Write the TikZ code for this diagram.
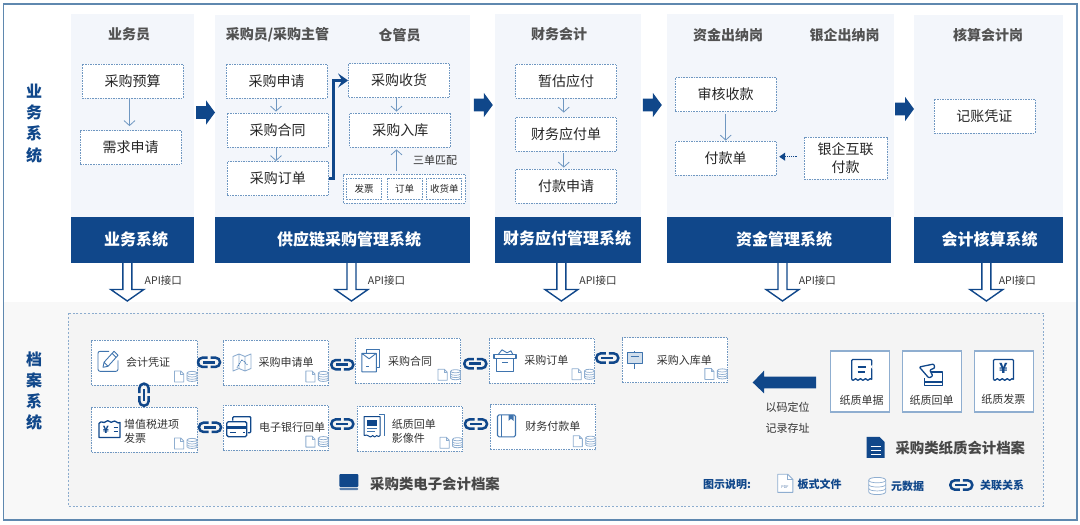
\documentclass[tikz,border=0pt]{standalone}
\usepackage{fontspec}
\usepackage{xcolor}
\setmainfont{Noto Sans CJK SC}
\usetikzlibrary{arrows.meta}
\definecolor{cgnavy}{HTML}{10478A}
\definecolor{cgblue}{HTML}{3F74AE}
\definecolor{cgdash}{HTML}{6F97C1}
\definecolor{cgpale}{HTML}{8FAED0}
\definecolor{cgpanel}{HTML}{F3F6FB}
\definecolor{cgband}{HTML}{F8F8F8}
\definecolor{cgarch}{HTML}{F4F4F4}
\definecolor{cgframe}{HTML}{5F88AF}
\definecolor{cgink}{HTML}{333333}
\newcommand{\pxf}[1]{\fontsize{#1}{#1}\selectfont}
\tikzset{
  panel/.style={fill=cgpanel},
  headbox/.style={fill=cgnavy},
  headtxt/.style={text=white, font=\bfseries\pxf{16}, inner sep=0pt},
  roletxt/.style={text=cgink!85, font=\bfseries\pxf{14}, inner sep=0pt},
  sidetxt/.style={text=cgnavy, font=\bfseries\pxf{16}, align=center, inner sep=0pt},
  flowbox/.style={rectangle, draw=cgdash, fill=white, line width=0.8pt, dash pattern=on 1.6pt off 1pt,
    minimum width=101pt, minimum height=34pt, inner sep=0pt, text=black!85, font=\pxf{14}, align=center},
  tinybox/.style={flowbox, minimum width=35pt, minimum height=21pt, font=\pxf{9.5}},
  archbox/.style={flowbox, minimum width=105.5pt, minimum height=45pt},
  papbox/.style={rectangle, draw=cgpale, fill=white, line width=1.2pt, minimum width=59pt, minimum height=61pt, inner sep=0pt},
  smalltxt/.style={text=cgink, font=\fontsize{11}{14}\selectfont, inner sep=0pt, align=left},
  bigtxt/.style={text=cgink!90, font=\bfseries\pxf{14.4}, inner sep=0pt},
  legtxt/.style={text=cgnavy, font=\bfseries\pxf{11}, inner sep=0pt},
  apitxt/.style={text=cgink, font=\pxf{10.5}, inner sep=0pt},
  thinarr/.style={draw=cgdash, line width=0.8pt, -{Straight Barb[length=5pt,width=11pt]}},
  thickarr/.style={draw=cgnavy, line width=2.4pt, -{Stealth[length=10pt,width=14pt,inset=4pt]}},
  dotarr/.style={draw=cgnavy, line width=1.1pt, dash pattern=on 1.2pt off 1pt, -{Triangle[length=6pt,width=8pt]}},
  icn/.style={draw=cgblue, line width=0.9pt, line join=round},
  icd/.style={draw=cgnavy, line width=1.3pt, line join=round},
  % link icon, blocks and hollow arrows
  chainicon/.pic={
    \draw[cgnavy, line width=2.5pt, rounded corners=4.4pt] (-1.5,-4.6) -| (-11,4.6) -- (-1.5,4.6);
    \draw[cgnavy, line width=2.5pt, rounded corners=4.4pt] (1.5,-4.6) -| (11,4.6) -- (1.5,4.6);
    \draw[cgnavy, line width=2.5pt] (-6,0) -- (6,0);
  },
  blockarrow/.pic={
    \fill[cgnavy] (-9.5,-6.3) -- (0.5,-6.3) -- (0.5,-12.2) -- (9.5,0) -- (0.5,12.2) -- (0.5,6.3) -- (-9.5,6.3) -- cycle;
  },
  apiarrow/.pic={
    \draw[cgnavy, line width=1.4pt, fill=white, line join=miter] (-4.5,0) -- (-4.5,26.5) -- (-16.5,26.5) -- (0,38) -- (16.5,26.5) -- (4.5,26.5) -- (4.5,0);
  },
  pdfmark/.pic={
    \draw[cgpale, line width=0.8pt, fill=white, line join=round] (-4.6,-5.5) -- (1.5,-5.5) -- (4.6,-2.4) -- (4.6,5.5) -- (-4.6,5.5) -- cycle;
    \draw[cgpale, line width=0.7pt] (1.5,-5.5) |- (4.6,-2.4);
  },
  dbmark/.pic={
    \draw[cgpale, line width=0.8pt, fill=white] (-5,-3.4) .. controls (-5,-5.6) and (5,-5.6) .. (5,-3.4) -- (5,3.4) .. controls (5,5.6) and (-5,5.6) .. (-5,3.4) -- cycle;
    \foreach \yy in {-3.4,-0.9,1.4}
      \draw[cgpale, line width=0.7pt] (-5,\yy) .. controls (-5,\yy+2) and (5,\yy+2) .. (5,\yy);
  },
  % document icons
  penicon/.pic={
    \draw[icn, rounded corners=2pt] (1,-10) -- (-10,-10) -- (-10,10) -- (10,10) -- (10,-1);
    \draw[icn] (-5,6) -- (-4,1) -- (6,-10) -- (10,-6) -- (0,5) -- cycle (-4,1) -- (0,5) (4,-8) -- (8,-4);
  },
  mapicon/.pic={
    \draw[icn, draw=cgpale] (-9,-6) -- (-3,-8.5) -- (3,-6) -- (9,-8.5) -- (9,6) -- (3,8.5) -- (-3,6) -- (-9,8.5) -- cycle
      (-3,-8.5) -- (-3,6) (3,-6) -- (3,8.5);
    \draw[icn, dash pattern=on 1pt off 1pt] (-5,5) -- (0,-3) -- (6,3);
  },
  contracticon/.pic={
    \draw[icn] (-4.5,-8) -- (-4.5,-11) -- (9,-11) -- (9,7) -- (5.5,7);
    \draw[icn] (-9,-7.5) -- (5.5,-7.5) -- (5.5,11) -- (-9,11) -- cycle (-9,-7.5) -- (-1.7,-2) -- (5.5,-7.5);
    \draw[icn] (-5,6) -- (-2,6);
  },
  boxicon/.pic={
    \draw[icn, line width=1.1pt] (-11,-6) rectangle (11,-2) (-8.5,-2) rectangle (8.5,11) (-3,2) -- (3,2);
    \draw[icn] (-7,-6) -- (-3,-11) -- (2,-8) -- (6,-10) -- (8,-6);
  },
  signicon/.pic={
    \draw[icn, fill=cgpale!40] (-7.5,-7.5) rectangle (7.5,3.5);
    \draw[icn, line width=1.6pt] (0,3.5) -- (0,9) (-4,-3) -- (4,-3);
    \draw[icn] (0,-7.5) -- (0,-9);
  },
  billshape/.pic={
    \draw[icd, rounded corners=1pt] (-10,9) -- (-10,-11) -- (10,-11) -- (10,9);
    \draw[icd] (-10,9) .. controls (-8,12) and (-6.5,6) .. (-5,9) .. controls (-3.5,12) and (-1.5,6) .. (0,9)
      .. controls (1.5,12) and (3.5,6) .. (5,9) .. controls (6.5,12) and (8,6) .. (10,9);
  },
  ticketicon/.pic={
    \draw[icd] (-10.5,-6) .. controls (-8,-10) and (-6,-5) .. (-3.5,-8) .. controls (-1,-11) and (1,-5) .. (3.5,-8) .. controls (6,-10) and (8,-5) .. (10.5,-7)
      -- (10.5,8) -- (-10.5,8) -- cycle;
    \node[text=cgnavy, font=\bfseries\pxf{10}, inner sep=0pt] (yenmark) at (-3.5,0.5) {¥};
    \draw[icd, line width=1pt] (4,-2) -- (8,-2) (4,2) -- (8,2);
  },
  cardicon/.pic={
    \draw[icd, rounded corners=1pt] (-6,-6) -- (-6,-10) -- (12,-10) -- (12,6) -- (9,6);
    \draw[icd, rounded corners=1.5pt] (-12,-5) rectangle (8,10);
    \fill[cgnavy] (-12,-1) rectangle (8,2.5);
    \draw[icd, line width=1pt] (-9,6) -- (-3,6) (4,6) -- (6,6);
  },
  scanicon/.pic={
    \draw[icn] (5,-12) -- (10,-12) -- (10,9);
    \draw[icd, line width=1pt] (-10,9) -- (-10,-10) -- (6,-10) -- (6,9)
      .. controls (4,12) and (3,7) .. (1.5,10) .. controls (0,12) and (-1,7) .. (-2.5,10) .. controls (-4,12) and (-6,7) .. (-10,9);
    \fill[cgnavy] (-7,-7) rectangle (3,-1);
    \draw[icn] (-7,2) -- (3,2) (-7,5) -- (1,5);
  },
  bookicon/.pic={
    \draw[icn, line width=1.1pt, rounded corners=1.5pt] (-9,-11) rectangle (9,11);
    \draw[icn] (-5,-11) -- (-5,11);
    \fill[cgblue] (2,-11) -- (7,-11) -- (7,-5) -- (4.5,-7) -- (2,-5) -- cycle;
  },
  receipticon/.pic={
    \pic {billshape};
    \draw[icd] (-4,-3.5) -- (4,-3.5) (-4,1.5) -- (3,1.5);
    \fill[white] (8.7,-4) -- (11,-6) -- (11,-1) -- cycle;
  },
  handicon/.pic={
    \draw[icd] (-5,-3) -- (11.5,-3) -- (11.5,10.5) -- (-6,10.5) -- (-6,3);
    \draw[icd] (-6,7) -- (11.5,7);
    \draw[icd, fill=white, rounded corners=1pt] (-11.5,-8) -- (3,-11) -- (4,-7) -- (-1,-5) -- (2,1) -- (-2,3) -- cycle;
  },
  yenicon/.pic={
    \pic {billshape};
    \node[text=cgnavy, font=\bfseries\pxf{14}, inner sep=0pt] (yenmark) at (0,-2.5) {¥};
  },
  monitoricon/.pic={
    \fill[cgnavy, rounded corners=1pt] (-9.5,-8) rectangle (9.5,5);
    \fill[cgnavy!70, rounded corners=1pt] (-9.5,5.8) rectangle (9.5,8);
  },
  fileicon/.pic={
    \fill[cgnavy] (-9,-10.5) -- (4,-10.5) -- (9,-5.5) -- (9,10.5) -- (-9,10.5) -- cycle;
    \draw[white, line width=1pt] (-5,-1) -- (5,-1) (-5,3) -- (5,3) (-5,7) -- (5,7);
  }
}

\begin{document}
\begin{tikzpicture}[x=1pt, y=-1pt]
  \useasboundingbox (0,0) rectangle (1080,525);
  % lower band and outer frame
  \fill[cgband] (3.5,302) rectangle (1077,520);
  \draw[cgframe, line width=1.2pt] (3.5,4) rectangle (1077,520);

  % panels and system headers
  \foreach \xa/\ya/\xb/\hb in {71/14/194/194, 215/15/470/470, 494.6/14/640.6/640.6, 667/14/894/891, 913.7/15/1063/1063}{
    \fill[panel] (\xa,\ya) rectangle (\xb,217);
    \fill[headbox] (\xa,217) rectangle (\hb,262.5);
  }
  \node[headtxt] (hywxt) at (136,239) {业务系统};
  \node[headtxt] (hgyl) at (349,239) {供应链采购管理系统};
  \node[headtxt] (hcwyf) at (567,238) {财务应付管理系统};
  \node[headtxt] (hzjgl) at (784,239) {资金管理系统};
  \node[headtxt] (hkjhs) at (989.5,239) {会计核算系统};

  \node[sidetxt, font=\bfseries\fontsize{16}{21.2}\selectfont] (sideyw) at (34,123.5) {业\\务\\系\\统};
  \node[sidetxt, font=\bfseries\fontsize{16}{21.2}\selectfont] (sidewa) at (34,391) {档\\案\\系\\统};

  % roles
  \node[roletxt] (rywy) at (129,34) {业务员};
  \node[roletxt] (rcgy) at (277.5,35) {采购员/采购主管};
  \node[roletxt] (rcgu) at (399.5,35.5) {仓管员};
  \node[roletxt] (rcwkj) at (559,34.5) {财务会计};
  \node[roletxt] (rzjcn) at (728,35) {资金出纳岗};
  \node[roletxt] (ryqcn) at (844.5,35) {银企出纳岗};
  \node[roletxt] (rhskj) at (988,35) {核算会计岗};

  % business flow boxes
  \node[flowbox] (cgys) at (132.5,81) {采购预算};
  \node[flowbox] (xqsq) at (130.5,147.5) {需求申请};
  \node[flowbox] (cgsq) at (276.5,81) {采购申请};
  \node[flowbox] (cght) at (277.5,130) {采购合同};
  \node[flowbox] (cgdd) at (277.75,178.5) {采购订单};
  \node[flowbox] (cgsh) at (399,80.5) {采购收货};
  \node[flowbox] (cgrk) at (400.25,130) {采购入库};
  \node[flowbox, minimum width=121.5pt, minimum height=29pt] (sdpp) at (404.25,188.5) {};
  \node[tinybox] (dfp) at (364,188.5) {发票};
  \node[tinybox] (ddd) at (404.5,188.5) {订单};
  \node[tinybox] (dsh) at (444.25,188.5) {收货单};
  \node[smalltxt, anchor=west] (sdtxt) at (413,160) {三单匹配};
  \node[flowbox] (zgyf) at (566,81) {暂估应付};
  \node[flowbox] (cwyf) at (566,134) {财务应付单};
  \node[flowbox] (fksq) at (566,186) {付款申请};
  \node[flowbox] (shsk) at (725.7,94.5) {审核收款};
  \node[flowbox] (fkd) at (725.7,158) {付款单};
  \node[flowbox, minimum width=83pt, minimum height=42pt, font=\fontsize{14}{18}\selectfont] (yqhl) at (845.5,158) {银企互联\\付款};
  \node[flowbox] (jzpz) at (984.4,116) {记账凭证};

  \draw[thinarr] ([xshift=-3pt]cgys.south) -- ([xshift=-1pt,yshift=4pt]xqsq.north);
  \draw[thinarr] ([xshift=-0.5pt]cgsq.south) -- ([xshift=-1.5pt,yshift=1pt]cght.north);
  \draw[thinarr] ([xshift=-1.5pt]cght.south) -- ([xshift=-1.75pt]cgdd.north);
  \draw[thinarr] ([xshift=-2.5pt]cgsh.south) -- ([xshift=-3.75pt,yshift=1pt]cgrk.north);
  \draw[thinarr] ([xshift=-7.75pt,yshift=3pt]sdpp.north) -- ([xshift=-3.75pt,yshift=-2pt]cgrk.south);
  \draw[thickarr] (cgdd.east) -- ++(5,0) |- (cgsh.west);
  \draw[thinarr] ([xshift=-2.25pt]zgyf.south) -- ([xshift=-2.25pt,yshift=4pt]cwyf.north);
  \draw[thinarr] ([xshift=-2.25pt,yshift=-2pt]cwyf.south) -- ([xshift=-2.25pt,yshift=1pt]fksq.north);
  \draw[thinarr] ([yshift=-2pt]shsk.south) -- (fkd.north);
  \draw[dotarr] ([xshift=-7pt,yshift=1.3pt]yqhl.west) -- ([xshift=2.6pt,yshift=1.3pt]fkd.east);

  % block arrows between systems
  \pic at (205.5,112.5) {blockarrow};
  \pic at (483.3,105) {blockarrow};
  \pic at (652.3,105) {blockarrow};
  \pic at (904.5,109) {blockarrow};

  % api arrows
  \foreach \cx/\tx [count=\i] in {127.3/163.3, 351.5/386.5, 561.4/598, 782.5/817.3, 986.4/1017.3}{
    \pic at (\cx,263) {apiarrow};
    \node[apitxt] (api\i) at (\tx,281) {API接口};
  }

  % archive area
  \draw[cgdash!80, fill=cgarch, line width=0.9pt, dash pattern=on 2pt off 1.8pt] (68,313) rectangle (1043,506);

  \node[archbox] (akj) at (144.5,362.5) {};
  \node[archbox] (asq) at (275.8,362.5) {};
  \node[archbox] (aht) at (408,360.8) {};
  \node[archbox] (add) at (542,360.4) {};
  \node[archbox] (ark) at (674.8,360) {};
  \node[archbox] (azz) at (144.5,429.5) {};
  \node[archbox] (ayh) at (275.8,427.7) {};
  \node[archbox] (azh) at (410,428.8) {};
  \node[archbox] (afk) at (543.1,427.3) {};
  \foreach \n in {akj,asq,aht,add,ark,azz,ayh,azh,afk}{
    \pic at ([xshift=-18.5pt,yshift=9pt]\n.south east) {pdfmark};
    \pic at ([xshift=-5.6pt,yshift=9pt]\n.south east) {dbmark};
  }
  \node[smalltxt] (tkj) at (148,362.3) {会计凭证};
  \node[smalltxt] (tsq) at (286,362.3) {采购申请单};
  \node[smalltxt] (tht) at (410,361) {采购合同};
  \node[smalltxt] (tdd) at (546.3,360.7) {采购订单};
  \node[smalltxt] (trk) at (684.3,360) {采购入库单};
  \node[smalltxt, anchor=west] (tzz) at (124,431) {增值税进项\\发票};
  \node[smalltxt] (tyh) at (292,427.3) {电子银行回单};
  \node[smalltxt, anchor=west] (tzh) at (391.7,431.3) {纸质回单\\影像件};
  \node[smalltxt] (tfk) at (552.8,426.7) {财务付款单};

  \pic at (108,361.3) {penicon};
  \pic at (242,362.5) {mapicon};
  \pic at (370.8,360.8) {contracticon};
  \pic at (505,360.8) {boxicon};
  \pic at (634.5,359.5) {signicon};
  \pic at (109.5,429.5) {ticketicon};
  \pic at (238.8,426.7) {cardicon};
  \pic at (374,426.5) {scanicon};
  \pic at (506.5,425.8) {bookicon};

  % links
  \pic at (209,362.3) {chainicon};
  \pic at (342.3,364.7) {chainicon};
  \pic at (475.3,363.7) {chainicon};
  \pic at (607.3,358) {chainicon};
  \pic at (210,427.3) {chainicon};
  \pic at (342.3,424) {chainicon};
  \pic at (476,424) {chainicon};
  \pic[rotate=90] at (144,394.7) {chainicon};

  % paper side
  \node[papbox] (pdj) at (860.2,381.5) {};
  \node[papbox] (phd) at (932,381.5) {};
  \node[papbox] (pfp) at (1003.8,381.5) {};
  \pic at (861.7,370.5) {receipticon};
  \pic at (930.8,375) {handicon};
  \pic at (1003.5,370.5) {yenicon};
  \node[smalltxt] (tdj) at (861.7,400.7) {纸质单据};
  \node[smalltxt] (thd) at (931.7,400.7) {纸质回单};
  \node[smalltxt] (tfp) at (1003.3,399) {纸质发票};
  \fill[cgnavy] (816,376.7) -- (764,376.7) -- (764,370.7) -- (752.7,382.5) -- (764,393.3) -- (764,388.3) -- (816,388.3) -- cycle;
  \node[smalltxt] (tdw) at (787.7,407.3) {以码定位};
  \node[smalltxt] (tcz) at (787.7,428.3) {记录存址};
  \pic at (875.5,447.3) {fileicon};
  \node[bigtxt] (tzzda) at (960.3,447.7) {采购类纸质会计档案};
  \pic at (348.8,482) {monitoricon};
  \node[bigtxt] (tdzda) at (435,483.7) {采购类电子会计档案};

  % legend
  \node[legtxt] (ltit) at (727,484) {图示说明:};
  \pic[scale=1.65] at (785.3,483.3) {pdfmark};
  \node[text=cgnavy!70, font=\pxf{3.8}, inner sep=0pt] (lpdf) at (785,487) {PDF};
  \node[legtxt] (lbs) at (819.5,484.3) {板式文件};
  \pic[scale=1.7] at (877.2,486) {dbmark};
  \node[legtxt] (lys) at (907.5,486) {元数据};
  \pic at (961.3,485) {chainicon};
  \node[legtxt] (lgl) at (1002,485) {关联关系};
\end{tikzpicture}
\end{document}
